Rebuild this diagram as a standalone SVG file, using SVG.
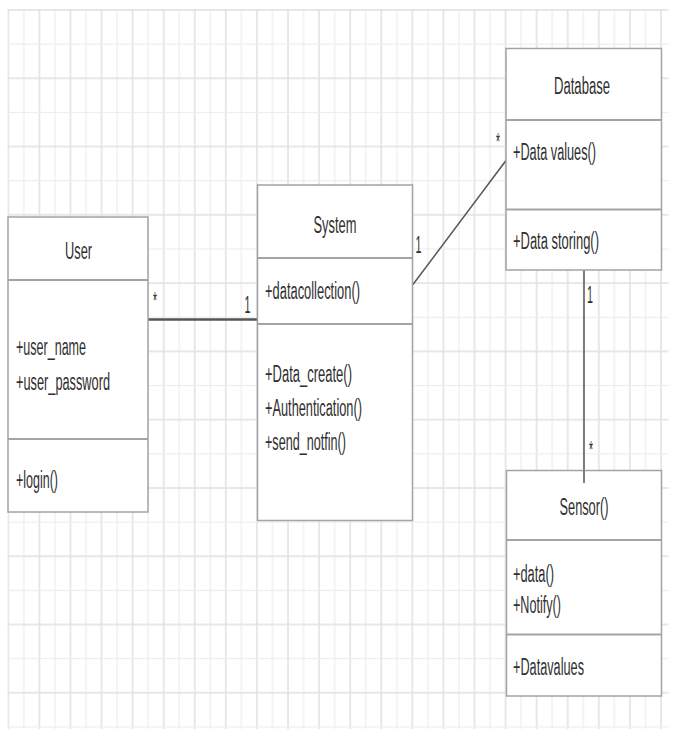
<svg xmlns="http://www.w3.org/2000/svg" width="678" height="729" viewBox="0 0 678 729">
  <defs>
    <pattern id="grid" patternUnits="userSpaceOnUse" x="7.3" y="9" width="31.08" height="68.28">
      <line x1="1" y1="0" x2="1" y2="68.28" stroke="#e2e2e2" stroke-width="1.6"/>
      <line x1="16.54" y1="0" x2="16.54" y2="68.28" stroke="#ececec" stroke-width="1.2"/>
      <line x1="0" y1="1" x2="31.08" y2="1" stroke="#e2e2e2" stroke-width="1.6"/>
      <line x1="0" y1="35.14" x2="31.08" y2="35.14" stroke="#ececec" stroke-width="1.2"/>
    </pattern>
    <style>
      .box { fill: #ffffff; stroke: #a3a3a3; stroke-width: 1.5; }
      .div { stroke: #a3a3a3; stroke-width: 2; fill: none; }
      .t { font-family: "Liberation Sans", Arial, sans-serif; font-size: 23px; fill: #303030; }
      .c { text-anchor: middle; }
      .conn { stroke: #555555; fill: none; }
    </style>
  </defs>

  <rect x="0" y="0" width="678" height="729" fill="#ffffff"/>
  <rect x="7.5" y="9" width="661" height="720" fill="url(#grid)"/>

  <g id="connectors">
    <line class="conn" x1="148" y1="319.5" x2="257" y2="319.5" stroke-width="2.6"/>
    <line class="conn" x1="413" y1="284.5" x2="506" y2="160.5" stroke-width="1.5"/>
    <line class="conn" x1="584" y1="270" x2="584" y2="483" stroke-width="1.5"/>
    <text class="t" x="153" y="309" textLength="4" lengthAdjust="spacingAndGlyphs">*</text>
    <text class="t c" x="247.5" y="313" textLength="6" lengthAdjust="spacingAndGlyphs">1</text>
    <text class="t c" x="418.5" y="252.5" textLength="6" lengthAdjust="spacingAndGlyphs">1</text>
    <text class="t" x="496" y="150" textLength="4" lengthAdjust="spacingAndGlyphs">*</text>
    <text class="t c" x="590" y="303" textLength="6" lengthAdjust="spacingAndGlyphs">1</text>
    <text class="t" x="589" y="457.5" textLength="4" lengthAdjust="spacingAndGlyphs">*</text>
  </g>

  <g id="user">
    <rect class="box" x="8" y="217" width="140" height="295"/>
    <line class="div" x1="8" y1="280" x2="148" y2="280"/>
    <line class="div" x1="8" y1="439" x2="148" y2="439"/>
    <text class="t c" x="78.5" y="259" textLength="27" lengthAdjust="spacingAndGlyphs">User</text>
    <text class="t" x="16" y="355" textLength="70" lengthAdjust="spacingAndGlyphs">+user_name</text>
    <text class="t" x="16" y="390" textLength="94" lengthAdjust="spacingAndGlyphs">+user_password</text>
    <text class="t" x="16" y="488" textLength="42" lengthAdjust="spacingAndGlyphs">+login()</text>
  </g>

  <g id="system">
    <rect class="box" x="257.5" y="185" width="155" height="335.5"/>
    <line class="div" x1="257.5" y1="258" x2="412.5" y2="258"/>
    <line class="div" x1="257.5" y1="324" x2="412.5" y2="324"/>
    <text class="t c" x="335" y="232.5" textLength="43" lengthAdjust="spacingAndGlyphs">System</text>
    <text class="t" x="265" y="299" textLength="95" lengthAdjust="spacingAndGlyphs">+datacollection()</text>
    <text class="t" x="265" y="382" textLength="87" lengthAdjust="spacingAndGlyphs">+Data_create()</text>
    <text class="t" x="265" y="416" textLength="97" lengthAdjust="spacingAndGlyphs">+Authentication()</text>
    <text class="t" x="265" y="450" textLength="81" lengthAdjust="spacingAndGlyphs">+send_notfin()</text>
  </g>

  <g id="database">
    <rect class="box" x="506" y="48.5" width="155.5" height="221.5"/>
    <line class="div" x1="506" y1="120" x2="661.5" y2="120"/>
    <line class="div" x1="506" y1="209.5" x2="661.5" y2="209.5"/>
    <text class="t c" x="582" y="94" textLength="56" lengthAdjust="spacingAndGlyphs">Database</text>
    <text class="t" x="513" y="160" textLength="83" lengthAdjust="spacingAndGlyphs">+Data values()</text>
    <text class="t" x="513" y="249" textLength="86" lengthAdjust="spacingAndGlyphs">+Data storing()</text>
  </g>

  <g id="sensor">
    <rect class="box" x="506.5" y="470.5" width="155" height="225.5"/>
    <line class="div" x1="506.5" y1="540" x2="661.5" y2="540"/>
    <line class="div" x1="506.5" y1="634.5" x2="661.5" y2="634.5"/>
    <line class="conn" x1="584" y1="470.5" x2="584" y2="483" stroke-width="1.5"/>
    <text class="t c" x="584" y="515" textLength="49" lengthAdjust="spacingAndGlyphs">Sensor()</text>
    <text class="t" x="513" y="582" textLength="41" lengthAdjust="spacingAndGlyphs">+data()</text>
    <text class="t" x="513" y="613" textLength="48" lengthAdjust="spacingAndGlyphs">+Notify()</text>
    <text class="t" x="513" y="675" textLength="71" lengthAdjust="spacingAndGlyphs">+Datavalues</text>
  </g>
</svg>
